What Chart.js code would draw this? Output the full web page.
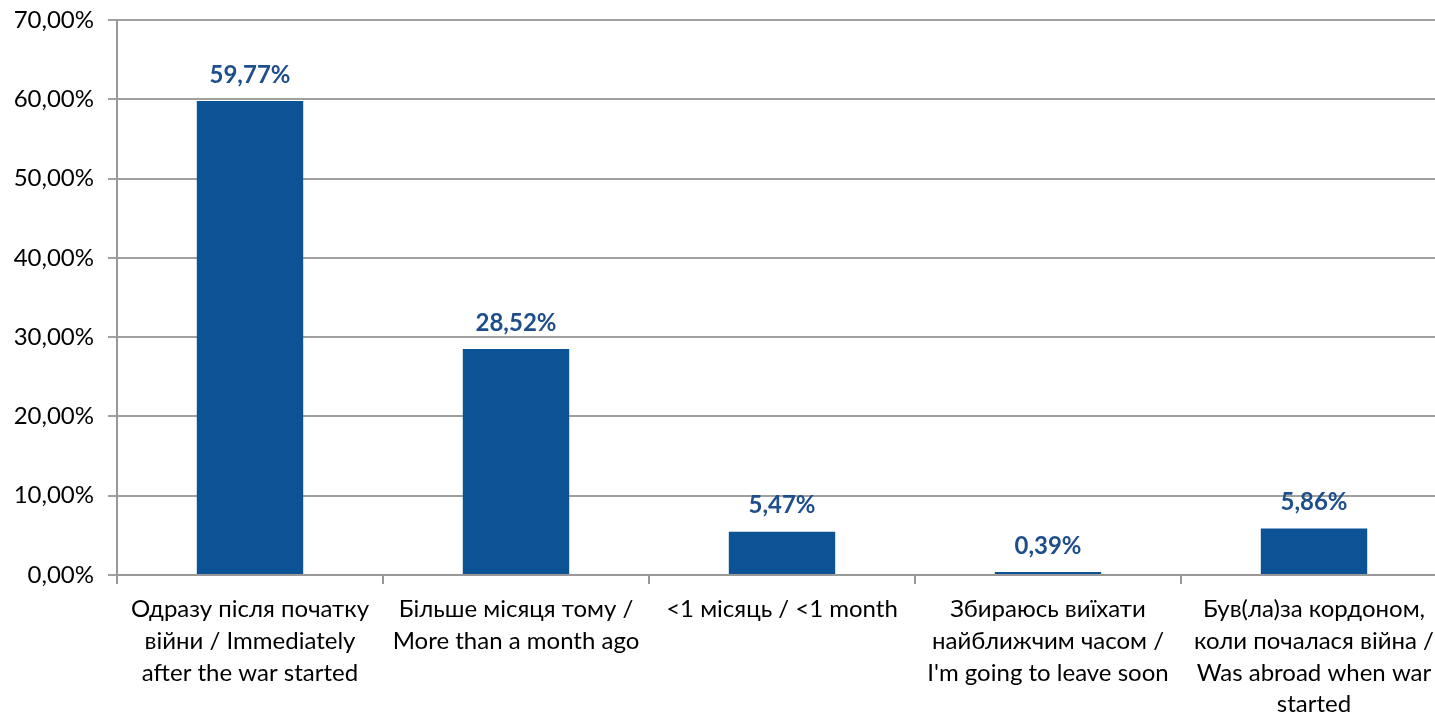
<!DOCTYPE html>
<html>
<head>
<meta charset="utf-8">
<script src="https://cdn.jsdelivr.net/npm/chart.js@4/dist/chart.umd.min.js"></script>
<style>
  html, body { margin: 0; padding: 0; background: #fff; overflow: hidden; }
  #wrap { width: 1460px; height: 717px; }
</style>
</head>
<body>
<div id="wrap"><canvas id="leaveChart"></canvas></div>
<script>
const categories = [
    ['Одразу після початку', 'війни / Immediately', 'after the war started'],
    ['Більше місяця тому /', 'More than a month ago'],
    ['<1 місяць / <1 month'],
    ['Збираюсь виїхати', 'найближчим часом /', "I'm going to leave soon"],
    ['Був(ла)за кордоном,', 'коли почалася війна /', 'Was abroad when war', 'started']
];
const shares = [59.77, 28.52, 5.47, 0.39, 5.86];
const valueLabels = ['59,77%', '28,52%', '5,47%', '0,39%', '5,86%'];
const yTickLabels = ['0,00%', '10,00%', '20,00%', '30,00%', '40,00%', '50,00%', '60,00%', '70,00%'];

const ctx = document.getElementById('leaveChart').getContext('2d');
const FONT = 'Lato, "Open Sans", sans-serif';

// draw the value above each bar
const barLabels = {
    id: 'barLabels',
    afterDatasetsDraw(chart) {
        const meta = chart.getDatasetMeta(0);
        const c = chart.ctx;
        c.save();
        c.font = 'bold 24px ' + FONT;
        c.fillStyle = '#1F4E8C';
        c.textAlign = 'center';
        c.textBaseline = 'middle';
        meta.data.forEach((bar, i) => {
            c.fillText(valueLabels[i], bar.x, bar.y - 26);
        });
        c.restore();
    }
};

new Chart(ctx, {
    type: 'bar',
    data: {
        labels: categories,
        datasets: [{
            data: shares,
            backgroundColor: '#0B5394',
            borderWidth: 0,
            barPercentage: 0.4,
            categoryPercentage: 1.0
        }]
    },
    options: {
        responsive: true,
        maintainAspectRatio: false,
        animation: false,
        layout: { padding: { top: 20, right: 13, left: 0, bottom: 0 } },
        plugins: {
            legend: { display: false },
            tooltip: { enabled: false }
        },
        scales: {
            x: {
                grid: {
                    drawOnChartArea: false,
                    drawTicks: true,
                    tickLength: 9,
                    color: '#999999',
                    lineWidth: 2
                },
                border: { display: true, color: '#999999', width: 2 },
                ticks: {
                    color: '#000',
                    font: { family: FONT, size: 24, lineHeight: 1.33 },
                    maxRotation: 0,
                    autoSkip: false,
                    padding: 9
                },
                afterFit(scale) { scale.height = 142; }
            },
            y: {
                min: 0,
                max: 70,
                grid: {
                    color: '#A0A0A0',
                    lineWidth: 2,
                    tickLength: 9
                },
                border: { display: true, color: '#999999', width: 2 },
                ticks: {
                    stepSize: 10,
                    color: '#000',
                    font: { family: FONT, size: 24 },
                    padding: 14,
                    callback: (v) => yTickLabels[Math.round(v / 10)]
                },
                afterFit(scale) {
                    scale.width = 117;
                    scale.paddingTop = 0;
                    scale.paddingBottom = 0;
                }
            }
        }
    },
    plugins: [barLabels]
});
</script>
</body>
</html>
